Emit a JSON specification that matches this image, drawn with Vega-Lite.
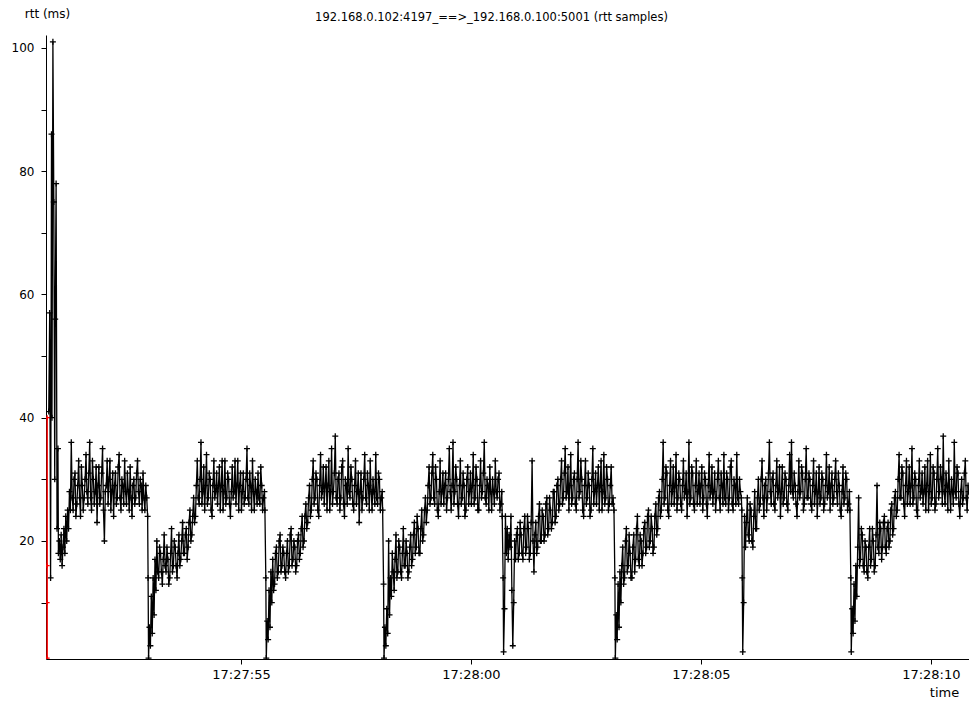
{
"$schema": "https://vega.github.io/schema/vega-lite/v6.json",
"width": 923, "height": 624,
"autosize": {"type": "none"},
"padding": {"left": 46, "top": 35, "right": 0, "bottom": 45},
"background": "white",
"config": {"view": {"stroke": null}, "font": "DejaVu Sans"},
"title": {"text": "192.168.0.102:4197_==>_192.168.0.100:5001 (rtt samples)", "fontSize": 11.5, "fontWeight": "normal", "font": "DejaVu Sans", "color": "black", "anchor": "middle", "frame": "group", "dx": -16, "offset": -16},
"datasets": {
"rtt": [
{"t":50.82,"r":41},{"t":50.84,"r":57},{"t":50.86,"r":14},{"t":50.88,"r":86},{"t":50.89,"r":40},{"t":50.91,"r":101},{"t":50.93,"r":75},{"t":50.95,"r":30},{"t":50.96,"r":56},{"t":50.98,"r":78},{"t":51.00,"r":22},{"t":51.02,"r":35},{"t":51.03,"r":18},
{"t":51.05,"r":20},{"t":51.07,"r":17},{"t":51.09,"r":21},{"t":51.11,"r":16},{"t":51.13,"r":19},{"t":51.15,"r":22},{"t":51.17,"r":18},{"t":51.19,"r":24},{"t":51.21,"r":20},{"t":51.23,"r":25},{"t":51.25,"r":22},
{"t":51.27,"r":28},{"t":51.29,"r":25},{"t":51.31,"r":36},{"t":51.33,"r":27},{"t":51.35,"r":25},{"t":51.37,"r":30},{"t":51.39,"r":31},{"t":51.41,"r":24},{"t":51.43,"r":26},{"t":51.45,"r":29},{"t":51.47,"r":33},{"t":51.49,"r":27},{"t":51.51,"r":24},{"t":51.53,"r":32},{"t":51.55,"r":29},{"t":51.57,"r":25},{"t":51.59,"r":27},{"t":51.61,"r":30},{"t":51.63,"r":34},{"t":51.65,"r":28},{"t":51.67,"r":26},{"t":51.69,"r":31},{"t":51.71,"r":36},{"t":51.73,"r":27},{"t":51.75,"r":25},{"t":51.77,"r":33},{"t":51.79,"r":30},{"t":51.81,"r":26},{"t":51.83,"r":28},{"t":51.85,"r":32},{"t":51.87,"r":23},{"t":51.89,"r":29},{"t":51.91,"r":32},{"t":51.93,"r":26},{"t":51.95,"r":27},{"t":51.97,"r":31},{"t":51.99,"r":35},{"t":52.01,"r":25},{"t":52.03,"r":20},{"t":52.05,"r":28},{"t":52.07,"r":29},{"t":52.09,"r":33},{"t":52.11,"r":26},{"t":52.13,"r":30},{"t":52.15,"r":33},{"t":52.17,"r":25},{"t":52.19,"r":28},{"t":52.21,"r":31},{"t":52.23,"r":24},{"t":52.25,"r":29},{"t":52.27,"r":31},{"t":52.29,"r":26},{"t":52.31,"r":27},{"t":52.33,"r":32},{"t":52.35,"r":34},{"t":52.37,"r":27},{"t":52.39,"r":25},{"t":52.41,"r":30},{"t":52.43,"r":29},{"t":52.45,"r":26},{"t":52.47,"r":33},{"t":52.49,"r":28},{"t":52.51,"r":26},{"t":52.53,"r":31},{"t":52.55,"r":28},{"t":52.57,"r":25},{"t":52.59,"r":32},{"t":52.61,"r":27},{"t":52.63,"r":24},{"t":52.65,"r":29},{"t":52.67,"r":30},{"t":52.69,"r":26},{"t":52.71,"r":27},{"t":52.73,"r":31},{"t":52.75,"r":33},{"t":52.77,"r":28},{"t":52.79,"r":26},{"t":52.81,"r":30},{"t":52.83,"r":29},{"t":52.85,"r":25},{"t":52.87,"r":31},{"t":52.89,"r":27},{"t":52.91,"r":25},{"t":52.93,"r":29},{"t":52.95,"r":27},
{"t":52.97,"r":24},{"t":52.98,"r":14},{"t":52.99,"r":1},{"t":53.01,"r":6},{"t":53.03,"r":3},{"t":53.05,"r":11},{"t":53.07,"r":5},{"t":53.09,"r":14},{"t":53.11,"r":8},{"t":53.13,"r":17},{"t":53.15,"r":12},{"t":53.17,"r":20},{"t":53.19,"r":15},{"t":53.21,"r":14},{"t":53.23,"r":19},{"t":53.25,"r":18},{"t":53.27,"r":15},{"t":53.29,"r":13},{"t":53.31,"r":17},{"t":53.33,"r":21},{"t":53.35,"r":16},{"t":53.37,"r":15},{"t":53.39,"r":19},{"t":53.41,"r":17},{"t":53.43,"r":13},{"t":53.45,"r":14},{"t":53.47,"r":18},{"t":53.49,"r":22},{"t":53.51,"r":15},{"t":53.53,"r":16},{"t":53.55,"r":20},{"t":53.57,"r":19},{"t":53.59,"r":16},{"t":53.61,"r":14},{"t":53.63,"r":18},{"t":53.65,"r":21},{"t":53.67,"r":16},{"t":53.69,"r":17},{"t":53.71,"r":20},{"t":53.73,"r":23},{"t":53.75,"r":18},{"t":53.77,"r":18},{"t":53.79,"r":21},{"t":53.81,"r":22},{"t":53.83,"r":17},{"t":53.85,"r":19},{"t":53.87,"r":23},{"t":53.89,"r":25},{"t":53.91,"r":20},{"t":53.93,"r":21},{"t":53.95,"r":24},{"t":53.97,"r":27},{"t":53.99,"r":23},{"t":54.01,"r":24},{"t":54.03,"r":29},
{"t":54.05,"r":33},{"t":54.07,"r":27},{"t":54.09,"r":26},{"t":54.11,"r":30},{"t":54.13,"r":36},{"t":54.15,"r":26},{"t":54.17,"r":28},{"t":54.19,"r":32},{"t":54.21,"r":25},{"t":54.23,"r":29},{"t":54.25,"r":34},{"t":54.27,"r":26},{"t":54.29,"r":27},{"t":54.31,"r":31},{"t":54.33,"r":30},{"t":54.35,"r":25},{"t":54.37,"r":24},{"t":54.39,"r":29},{"t":54.41,"r":33},{"t":54.43,"r":27},{"t":54.45,"r":28},{"t":54.47,"r":31},{"t":54.49,"r":26},{"t":54.51,"r":29},{"t":54.53,"r":32},{"t":54.55,"r":25},{"t":54.57,"r":29},{"t":54.59,"r":33},{"t":54.61,"r":25},{"t":54.63,"r":28},{"t":54.65,"r":33},{"t":54.67,"r":26},{"t":54.69,"r":27},{"t":54.71,"r":31},{"t":54.73,"r":30},{"t":54.75,"r":26},{"t":54.77,"r":24},{"t":54.79,"r":28},{"t":54.81,"r":32},{"t":54.83,"r":27},{"t":54.85,"r":28},{"t":54.87,"r":33},{"t":54.89,"r":26},{"t":54.91,"r":29},{"t":54.93,"r":33},{"t":54.95,"r":25},{"t":54.97,"r":29},{"t":54.99,"r":31},{"t":55.01,"r":25},{"t":55.03,"r":28},{"t":55.05,"r":31},{"t":55.07,"r":26},{"t":55.09,"r":27},{"t":55.11,"r":30},{"t":55.13,"r":35},{"t":55.15,"r":27},{"t":55.17,"r":26},{"t":55.19,"r":31},{"t":55.21,"r":29},{"t":55.23,"r":25},{"t":55.25,"r":33},{"t":55.27,"r":28},{"t":55.29,"r":25},{"t":55.31,"r":30},{"t":55.33,"r":28},{"t":55.35,"r":26},{"t":55.37,"r":31},{"t":55.39,"r":27},{"t":55.41,"r":26},{"t":55.43,"r":32},{"t":55.45,"r":29},{"t":55.47,"r":25},{"t":55.49,"r":27},{"t":55.51,"r":28},{"t":55.52,"r":25},
{"t":55.54,"r":14},{"t":55.55,"r":1},{"t":55.57,"r":7},{"t":55.59,"r":4},{"t":55.61,"r":12},{"t":55.63,"r":6},{"t":55.65,"r":15},{"t":55.67,"r":10},{"t":55.69,"r":17},{"t":55.71,"r":12},{"t":55.73,"r":13},{"t":55.75,"r":18},{"t":55.77,"r":19},{"t":55.79,"r":14},{"t":55.81,"r":15},{"t":55.83,"r":20},{"t":55.85,"r":21},{"t":55.87,"r":15},{"t":55.89,"r":16},{"t":55.91,"r":19},{"t":55.93,"r":18},{"t":55.95,"r":15},{"t":55.97,"r":14},{"t":55.99,"r":18},{"t":56.01,"r":20},{"t":56.03,"r":15},{"t":56.05,"r":16},{"t":56.07,"r":21},{"t":56.09,"r":22},{"t":56.11,"r":16},{"t":56.13,"r":17},{"t":56.15,"r":20},{"t":56.17,"r":19},{"t":56.19,"r":15},{"t":56.21,"r":16},{"t":56.23,"r":20},{"t":56.25,"r":21},{"t":56.27,"r":17},{"t":56.29,"r":18},{"t":56.31,"r":22},{"t":56.33,"r":24},{"t":56.35,"r":19},{"t":56.37,"r":20},{"t":56.39,"r":24},{"t":56.41,"r":26},{"t":56.43,"r":22},{"t":56.45,"r":23},{"t":56.47,"r":27},{"t":56.49,"r":29},{"t":56.51,"r":24},
{"t":56.53,"r":25},{"t":56.55,"r":30},{"t":56.57,"r":33},{"t":56.59,"r":26},{"t":56.61,"r":27},{"t":56.63,"r":31},{"t":56.65,"r":30},{"t":56.67,"r":25},{"t":56.69,"r":24},{"t":56.71,"r":29},{"t":56.73,"r":34},{"t":56.75,"r":27},{"t":56.77,"r":28},{"t":56.79,"r":32},{"t":56.81,"r":26},{"t":56.83,"r":29},{"t":56.85,"r":32},{"t":56.87,"r":25},{"t":56.89,"r":29},{"t":56.91,"r":33},{"t":56.93,"r":25},{"t":56.95,"r":28},{"t":56.97,"r":35},{"t":56.99,"r":26},{"t":57.01,"r":28},{"t":57.03,"r":31},{"t":57.05,"r":37},{"t":57.07,"r":27},{"t":57.09,"r":26},{"t":57.11,"r":30},{"t":57.13,"r":31},{"t":57.15,"r":25},{"t":57.17,"r":27},{"t":57.19,"r":32},{"t":57.21,"r":33},{"t":57.23,"r":26},{"t":57.25,"r":24},{"t":57.27,"r":30},{"t":57.29,"r":29},{"t":57.31,"r":26},{"t":57.33,"r":35},{"t":57.35,"r":28},{"t":57.37,"r":27},{"t":57.39,"r":32},{"t":57.41,"r":30},{"t":57.43,"r":26},{"t":57.45,"r":25},{"t":57.47,"r":29},{"t":57.49,"r":33},{"t":57.51,"r":26},{"t":57.53,"r":28},{"t":57.55,"r":31},{"t":57.57,"r":23},{"t":57.59,"r":28},{"t":57.61,"r":31},{"t":57.63,"r":25},{"t":57.65,"r":27},{"t":57.67,"r":30},{"t":57.69,"r":34},{"t":57.71,"r":27},{"t":57.73,"r":26},{"t":57.75,"r":31},{"t":57.77,"r":29},{"t":57.79,"r":25},{"t":57.81,"r":33},{"t":57.83,"r":28},{"t":57.85,"r":25},{"t":57.87,"r":30},{"t":57.89,"r":28},{"t":57.91,"r":26},{"t":57.93,"r":34},{"t":57.95,"r":27},{"t":57.97,"r":26},{"t":57.99,"r":31},{"t":58.01,"r":30},{"t":58.03,"r":25},{"t":58.05,"r":27},{"t":58.07,"r":28},{"t":58.08,"r":25},
{"t":58.10,"r":13},{"t":58.11,"r":1},{"t":58.13,"r":6},{"t":58.15,"r":3},{"t":58.17,"r":9},{"t":58.19,"r":5},{"t":58.21,"r":20},{"t":58.23,"r":8},{"t":58.25,"r":14},{"t":58.27,"r":11},{"t":58.29,"r":18},{"t":58.31,"r":15},{"t":58.33,"r":12},{"t":58.35,"r":17},{"t":58.37,"r":21},{"t":58.39,"r":14},{"t":58.41,"r":15},{"t":58.43,"r":20},{"t":58.45,"r":19},{"t":58.47,"r":15},{"t":58.49,"r":14},{"t":58.51,"r":18},{"t":58.53,"r":22},{"t":58.55,"r":16},{"t":58.57,"r":16},{"t":58.59,"r":20},{"t":58.61,"r":18},{"t":58.63,"r":14},{"t":58.65,"r":15},{"t":58.67,"r":19},{"t":58.69,"r":21},{"t":58.71,"r":16},{"t":58.73,"r":17},{"t":58.75,"r":21},{"t":58.77,"r":23},{"t":58.79,"r":18},{"t":58.81,"r":19},{"t":58.83,"r":24},{"t":58.85,"r":22},{"t":58.87,"r":18},{"t":58.89,"r":18},{"t":58.91,"r":22},{"t":58.93,"r":25},{"t":58.95,"r":20},{"t":58.97,"r":21},{"t":58.99,"r":25},{"t":59.01,"r":27},{"t":59.03,"r":23},
{"t":59.05,"r":25},{"t":59.07,"r":29},{"t":59.09,"r":32},{"t":59.11,"r":26},{"t":59.13,"r":27},{"t":59.15,"r":31},{"t":59.17,"r":34},{"t":59.19,"r":27},{"t":59.21,"r":26},{"t":59.23,"r":32},{"t":59.25,"r":30},{"t":59.27,"r":25},{"t":59.29,"r":24},{"t":59.31,"r":28},{"t":59.33,"r":33},{"t":59.35,"r":26},{"t":59.37,"r":28},{"t":59.39,"r":31},{"t":59.41,"r":26},{"t":59.43,"r":29},{"t":59.45,"r":31},{"t":59.47,"r":25},{"t":59.49,"r":27},{"t":59.51,"r":30},{"t":59.53,"r":35},{"t":59.55,"r":28},{"t":59.57,"r":25},{"t":59.59,"r":29},{"t":59.61,"r":36},{"t":59.63,"r":26},{"t":59.65,"r":28},{"t":59.67,"r":32},{"t":59.69,"r":30},{"t":59.71,"r":26},{"t":59.73,"r":24},{"t":59.75,"r":29},{"t":59.77,"r":33},{"t":59.79,"r":26},{"t":59.81,"r":27},{"t":59.83,"r":31},{"t":59.85,"r":29},{"t":59.87,"r":24},{"t":59.89,"r":25},{"t":59.91,"r":30},{"t":59.93,"r":32},{"t":59.95,"r":26},{"t":59.97,"r":28},{"t":59.99,"r":31},{"t":60.01,"r":26},{"t":60.03,"r":29},{"t":60.05,"r":34},{"t":60.07,"r":26},{"t":60.09,"r":27},{"t":60.11,"r":32},{"t":60.13,"r":30},{"t":60.15,"r":25},{"t":60.17,"r":25},{"t":60.19,"r":29},{"t":60.21,"r":33},{"t":60.23,"r":27},{"t":60.25,"r":28},{"t":60.27,"r":31},{"t":60.29,"r":36},{"t":60.31,"r":27},{"t":60.33,"r":26},{"t":60.35,"r":30},{"t":60.37,"r":29},{"t":60.39,"r":25},{"t":60.41,"r":32},{"t":60.43,"r":28},{"t":60.45,"r":25},{"t":60.47,"r":30},{"t":60.49,"r":28},{"t":60.51,"r":26},{"t":60.53,"r":33},{"t":60.55,"r":28},{"t":60.57,"r":27},{"t":60.59,"r":30},{"t":60.61,"r":31},{"t":60.63,"r":25},{"t":60.65,"r":26},{"t":60.67,"r":28},{"t":60.68,"r":24},
{"t":60.70,"r":14},{"t":60.71,"r":2},{"t":60.73,"r":9},{"t":60.75,"r":24},{"t":60.77,"r":18},{"t":60.79,"r":22},{"t":60.81,"r":17},{"t":60.83,"r":21},{"t":60.85,"r":19},{"t":60.87,"r":24},{"t":60.89,"r":12},{"t":60.91,"r":3},{"t":60.93,"r":10},{"t":60.95,"r":20},{"t":60.97,"r":17},{"t":60.99,"r":21},{"t":61.01,"r":22},{"t":61.03,"r":17},{"t":61.05,"r":18},{"t":61.07,"r":23},{"t":61.09,"r":21},{"t":61.11,"r":18},{"t":61.13,"r":17},{"t":61.15,"r":22},{"t":61.17,"r":24},{"t":61.19,"r":18},{"t":61.21,"r":19},{"t":61.23,"r":24},{"t":61.25,"r":22},{"t":61.27,"r":17},{"t":61.29,"r":18},{"t":61.31,"r":23},{"t":61.33,"r":33},{"t":61.35,"r":20},{"t":61.37,"r":15},{"t":61.39,"r":21},{"t":61.41,"r":23},{"t":61.43,"r":18},{"t":61.45,"r":19},{"t":61.47,"r":24},{"t":61.49,"r":26},{"t":61.51,"r":20},{"t":61.53,"r":20},{"t":61.55,"r":25},{"t":61.57,"r":24},{"t":61.59,"r":20},{"t":61.61,"r":21},{"t":61.63,"r":26},{"t":61.65,"r":27},{"t":61.67,"r":21},{"t":61.69,"r":22},{"t":61.71,"r":27},{"t":61.73,"r":25},{"t":61.75,"r":22},{"t":61.77,"r":23},{"t":61.79,"r":28},{"t":61.81,"r":28},{"t":61.83,"r":23},{"t":61.85,"r":24},{"t":61.87,"r":29},{"t":61.89,"r":30},{"t":61.91,"r":25},{"t":61.93,"r":26},{"t":61.95,"r":30},
{"t":61.97,"r":33},{"t":61.99,"r":26},{"t":62.01,"r":27},{"t":62.03,"r":31},{"t":62.05,"r":35},{"t":62.07,"r":27},{"t":62.09,"r":28},{"t":62.11,"r":32},{"t":62.13,"r":25},{"t":62.15,"r":29},{"t":62.17,"r":34},{"t":62.19,"r":26},{"t":62.21,"r":27},{"t":62.23,"r":30},{"t":62.25,"r":31},{"t":62.27,"r":26},{"t":62.29,"r":25},{"t":62.31,"r":30},{"t":62.33,"r":36},{"t":62.35,"r":27},{"t":62.37,"r":28},{"t":62.39,"r":33},{"t":62.41,"r":30},{"t":62.43,"r":25},{"t":62.45,"r":24},{"t":62.47,"r":29},{"t":62.49,"r":33},{"t":62.51,"r":26},{"t":62.53,"r":27},{"t":62.55,"r":31},{"t":62.57,"r":29},{"t":62.59,"r":24},{"t":62.61,"r":25},{"t":62.63,"r":30},{"t":62.65,"r":35},{"t":62.67,"r":26},{"t":62.69,"r":28},{"t":62.71,"r":31},{"t":62.73,"r":26},{"t":62.75,"r":29},{"t":62.77,"r":32},{"t":62.79,"r":25},{"t":62.81,"r":29},{"t":62.83,"r":33},{"t":62.85,"r":25},{"t":62.87,"r":28},{"t":62.89,"r":34},{"t":62.91,"r":26},{"t":62.93,"r":27},{"t":62.95,"r":32},{"t":62.97,"r":30},{"t":62.99,"r":25},{"t":63.01,"r":26},{"t":63.03,"r":29},{"t":63.05,"r":32},{"t":63.07,"r":26},{"t":63.09,"r":27},{"t":63.11,"r":25},
{"t":63.13,"r":14},{"t":63.14,"r":1},{"t":63.16,"r":8},{"t":63.18,"r":4},{"t":63.20,"r":13},{"t":63.22,"r":6},{"t":63.24,"r":15},{"t":63.26,"r":10},{"t":63.28,"r":16},{"t":63.30,"r":19},{"t":63.32,"r":13},{"t":63.34,"r":14},{"t":63.36,"r":20},{"t":63.38,"r":22},{"t":63.40,"r":15},{"t":63.42,"r":16},{"t":63.44,"r":21},{"t":63.46,"r":18},{"t":63.48,"r":14},{"t":63.50,"r":14},{"t":63.52,"r":19},{"t":63.54,"r":21},{"t":63.56,"r":15},{"t":63.58,"r":17},{"t":63.60,"r":22},{"t":63.62,"r":24},{"t":63.64,"r":17},{"t":63.66,"r":16},{"t":63.68,"r":21},{"t":63.70,"r":20},{"t":63.72,"r":16},{"t":63.74,"r":18},{"t":63.76,"r":22},{"t":63.78,"r":23},{"t":63.80,"r":18},{"t":63.82,"r":19},{"t":63.84,"r":24},{"t":63.86,"r":25},{"t":63.88,"r":19},{"t":63.90,"r":20},{"t":63.92,"r":24},{"t":63.94,"r":22},{"t":63.96,"r":18},{"t":63.98,"r":19},{"t":64.00,"r":24},{"t":64.02,"r":26},{"t":64.04,"r":21},{"t":64.06,"r":22},{"t":64.08,"r":27},{"t":64.10,"r":28},{"t":64.12,"r":24},
{"t":64.14,"r":25},{"t":64.16,"r":30},{"t":64.18,"r":36},{"t":64.20,"r":26},{"t":64.22,"r":27},{"t":64.24,"r":32},{"t":64.26,"r":31},{"t":64.28,"r":25},{"t":64.30,"r":24},{"t":64.32,"r":29},{"t":64.34,"r":33},{"t":64.36,"r":26},{"t":64.38,"r":28},{"t":64.40,"r":32},{"t":64.42,"r":26},{"t":64.44,"r":29},{"t":64.46,"r":34},{"t":64.48,"r":25},{"t":64.50,"r":27},{"t":64.52,"r":31},{"t":64.54,"r":30},{"t":64.56,"r":26},{"t":64.58,"r":25},{"t":64.60,"r":29},{"t":64.62,"r":33},{"t":64.64,"r":27},{"t":64.66,"r":28},{"t":64.68,"r":31},{"t":64.70,"r":24},{"t":64.72,"r":28},{"t":64.74,"r":36},{"t":64.76,"r":26},{"t":64.78,"r":27},{"t":64.80,"r":32},{"t":64.82,"r":31},{"t":64.84,"r":26},{"t":64.86,"r":25},{"t":64.88,"r":29},{"t":64.90,"r":33},{"t":64.92,"r":26},{"t":64.94,"r":28},{"t":64.96,"r":31},{"t":64.98,"r":26},{"t":65.00,"r":29},{"t":65.02,"r":32},{"t":65.04,"r":25},{"t":65.06,"r":27},{"t":65.08,"r":31},{"t":65.10,"r":30},{"t":65.12,"r":26},{"t":65.14,"r":24},{"t":65.16,"r":29},{"t":65.18,"r":34},{"t":65.20,"r":27},{"t":65.22,"r":28},{"t":65.24,"r":32},{"t":65.26,"r":26},{"t":65.28,"r":28},{"t":65.30,"r":31},{"t":65.32,"r":25},{"t":65.34,"r":27},{"t":65.36,"r":30},{"t":65.38,"r":33},{"t":65.40,"r":27},{"t":65.42,"r":25},{"t":65.44,"r":31},{"t":65.46,"r":29},{"t":65.48,"r":26},{"t":65.50,"r":34},{"t":65.52,"r":27},{"t":65.54,"r":26},{"t":65.56,"r":31},{"t":65.58,"r":30},{"t":65.60,"r":25},{"t":65.62,"r":27},{"t":65.64,"r":32},{"t":65.66,"r":33},{"t":65.68,"r":26},{"t":65.70,"r":25},{"t":65.72,"r":30},{"t":65.74,"r":29},{"t":65.76,"r":26},{"t":65.78,"r":34},{"t":65.80,"r":27},{"t":65.82,"r":26},{"t":65.84,"r":30},{"t":65.86,"r":28},{"t":65.88,"r":27},{"t":65.89,"r":25},
{"t":65.90,"r":14},{"t":65.91,"r":2},{"t":65.93,"r":10},{"t":65.95,"r":24},{"t":65.97,"r":19},{"t":65.99,"r":23},{"t":66.01,"r":27},{"t":66.03,"r":21},{"t":66.05,"r":20},{"t":66.07,"r":26},{"t":66.09,"r":25},{"t":66.11,"r":20},{"t":66.13,"r":19},{"t":66.15,"r":24},{"t":66.17,"r":28},{"t":66.19,"r":22},{"t":66.21,"r":22},{"t":66.23,"r":27},{"t":66.25,"r":30},{"t":66.27,"r":25},
{"t":66.29,"r":26},{"t":66.31,"r":30},{"t":66.33,"r":33},{"t":66.35,"r":27},{"t":66.37,"r":24},{"t":66.39,"r":29},{"t":66.41,"r":30},{"t":66.43,"r":25},{"t":66.45,"r":27},{"t":66.47,"r":31},{"t":66.49,"r":36},{"t":66.51,"r":28},{"t":66.53,"r":26},{"t":66.55,"r":30},{"t":66.57,"r":31},{"t":66.59,"r":26},{"t":66.61,"r":25},{"t":66.63,"r":29},{"t":66.65,"r":33},{"t":66.67,"r":27},{"t":66.69,"r":28},{"t":66.71,"r":32},{"t":66.73,"r":24},{"t":66.75,"r":28},{"t":66.77,"r":32},{"t":66.79,"r":26},{"t":66.81,"r":27},{"t":66.83,"r":31},{"t":66.85,"r":30},{"t":66.87,"r":26},{"t":66.89,"r":25},{"t":66.91,"r":29},{"t":66.93,"r":34},{"t":66.95,"r":28},{"t":66.97,"r":36},{"t":66.99,"r":28},{"t":67.01,"r":27},{"t":67.03,"r":31},{"t":67.05,"r":29},{"t":67.07,"r":26},{"t":67.09,"r":24},{"t":67.11,"r":28},{"t":67.13,"r":33},{"t":67.15,"r":27},{"t":67.17,"r":28},{"t":67.19,"r":32},{"t":67.21,"r":31},{"t":67.23,"r":25},{"t":67.25,"r":26},{"t":67.27,"r":30},{"t":67.29,"r":35},{"t":67.31,"r":27},{"t":67.33,"r":27},{"t":67.35,"r":31},{"t":67.37,"r":30},{"t":67.39,"r":26},{"t":67.41,"r":25},{"t":67.43,"r":29},{"t":67.45,"r":33},{"t":67.47,"r":26},{"t":67.49,"r":28},{"t":67.51,"r":31},{"t":67.53,"r":24},{"t":67.55,"r":28},{"t":67.57,"r":32},{"t":67.59,"r":26},{"t":67.61,"r":27},{"t":67.63,"r":31},{"t":67.65,"r":30},{"t":67.67,"r":25},{"t":67.69,"r":26},{"t":67.71,"r":29},{"t":67.73,"r":34},{"t":67.75,"r":27},{"t":67.77,"r":28},{"t":67.79,"r":32},{"t":67.81,"r":25},{"t":67.83,"r":29},{"t":67.85,"r":31},{"t":67.87,"r":26},{"t":67.89,"r":27},{"t":67.91,"r":30},{"t":67.93,"r":33},{"t":67.95,"r":28},{"t":67.97,"r":26},{"t":67.99,"r":31},{"t":68.01,"r":29},{"t":68.03,"r":25},{"t":68.05,"r":24},{"t":68.07,"r":28},{"t":68.09,"r":32},{"t":68.11,"r":26},{"t":68.13,"r":27},{"t":68.15,"r":31},{"t":68.17,"r":30},{"t":68.19,"r":25},{"t":68.21,"r":26},{"t":68.23,"r":28},{"t":68.24,"r":25},
{"t":68.26,"r":14},{"t":68.27,"r":2},{"t":68.29,"r":9},{"t":68.31,"r":5},{"t":68.33,"r":13},{"t":68.35,"r":7},{"t":68.37,"r":16},{"t":68.39,"r":11},{"t":68.41,"r":19},{"t":68.43,"r":27},{"t":68.45,"r":16},{"t":68.47,"r":17},{"t":68.49,"r":22},{"t":68.51,"r":21},{"t":68.53,"r":16},{"t":68.55,"r":15},{"t":68.57,"r":20},{"t":68.59,"r":19},{"t":68.61,"r":15},{"t":68.63,"r":14},{"t":68.65,"r":19},{"t":68.67,"r":22},{"t":68.69,"r":16},{"t":68.71,"r":17},{"t":68.73,"r":22},{"t":68.75,"r":20},{"t":68.77,"r":15},{"t":68.79,"r":16},{"t":68.81,"r":21},{"t":68.83,"r":29},{"t":68.85,"r":19},{"t":68.87,"r":18},{"t":68.89,"r":23},{"t":68.91,"r":22},{"t":68.93,"r":17},{"t":68.95,"r":19},{"t":68.97,"r":23},{"t":68.99,"r":24},{"t":69.01,"r":19},{"t":69.03,"r":18},{"t":69.05,"r":22},{"t":69.07,"r":23},{"t":69.09,"r":19},{"t":69.11,"r":20},{"t":69.13,"r":25},{"t":69.15,"r":26},{"t":69.17,"r":21},{"t":69.19,"r":22},{"t":69.21,"r":27},{"t":69.23,"r":28},{"t":69.25,"r":24},
{"t":69.27,"r":25},{"t":69.29,"r":30},{"t":69.31,"r":34},{"t":69.33,"r":27},{"t":69.35,"r":27},{"t":69.37,"r":32},{"t":69.39,"r":31},{"t":69.41,"r":26},{"t":69.43,"r":24},{"t":69.45,"r":29},{"t":69.47,"r":33},{"t":69.49,"r":26},{"t":69.51,"r":28},{"t":69.53,"r":32},{"t":69.55,"r":26},{"t":69.57,"r":29},{"t":69.59,"r":35},{"t":69.61,"r":26},{"t":69.63,"r":27},{"t":69.65,"r":31},{"t":69.67,"r":30},{"t":69.69,"r":25},{"t":69.71,"r":24},{"t":69.73,"r":29},{"t":69.75,"r":33},{"t":69.77,"r":27},{"t":69.79,"r":28},{"t":69.81,"r":31},{"t":69.83,"r":26},{"t":69.85,"r":28},{"t":69.87,"r":32},{"t":69.89,"r":25},{"t":69.91,"r":29},{"t":69.93,"r":33},{"t":69.95,"r":25},{"t":69.97,"r":28},{"t":69.99,"r":34},{"t":70.01,"r":26},{"t":70.03,"r":27},{"t":70.05,"r":32},{"t":70.07,"r":31},{"t":70.09,"r":25},{"t":70.11,"r":26},{"t":70.13,"r":30},{"t":70.15,"r":35},{"t":70.17,"r":27},{"t":70.19,"r":28},{"t":70.21,"r":32},{"t":70.23,"r":30},{"t":70.25,"r":26},{"t":70.27,"r":37},{"t":70.29,"r":28},{"t":70.31,"r":26},{"t":70.33,"r":31},{"t":70.35,"r":29},{"t":70.37,"r":25},{"t":70.39,"r":33},{"t":70.41,"r":28},{"t":70.43,"r":25},{"t":70.45,"r":30},{"t":70.47,"r":28},{"t":70.49,"r":26},{"t":70.51,"r":36},{"t":70.53,"r":28},{"t":70.55,"r":27},{"t":70.57,"r":32},{"t":70.59,"r":31},{"t":70.61,"r":26},{"t":70.63,"r":24},{"t":70.65,"r":28},{"t":70.67,"r":30},{"t":70.69,"r":26},{"t":70.71,"r":27},{"t":70.73,"r":31},{"t":70.75,"r":33},{"t":70.77,"r":27},{"t":70.79,"r":25},{"t":70.81,"r":29},{"t":70.82,"r":28}
],
"red": [{"t":50.785,"r":1},{"t":50.785,"r":10},{"t":50.785,"r":16},{"t":50.785,"r":40}]
},
"layer": [
{"data": {"name": "rtt"}, "mark": {"type": "line", "color": "black", "strokeWidth": 1.3, "clip": true},
 "encoding": {
  "x": {"field": "t", "type": "quantitative", "scale": {"domain": [50.76, 70.83], "nice": false, "zero": false},
   "axis": {"values": [55, 60, 65, 70], "labelExpr": "datum.value < 60 ? '17:27:' + datum.value : '17:28:' + (datum.value - 60 < 10 ? '0' : '') + (datum.value - 60)", "grid": false, "tickSize": 5, "labelPadding": 4, "labelFontSize": 13, "labelFont": "DejaVu Sans", "labelColor": "black", "domainColor": "black", "tickColor": "black", "title": "time", "titleFont": "DejaVu Sans", "titleFontSize": 13, "titleFontWeight": "normal", "titleColor": "black", "titleX": 898, "titleY": 33, "titleAlign": "center", "titleBaseline": "middle", "labelFlush": false}},
  "y": {"field": "r", "type": "quantitative", "scale": {"domain": [0.85, 102.1], "nice": false, "zero": false},
   "axis": {"values": [10, 20, 30, 40, 50, 60, 70, 80, 90, 100], "labelExpr": "datum.value % 20 == 0 ? datum.label : ''", "grid": false, "tickSize": 5, "labelPadding": 7, "labelFontSize": 12, "labelFont": "DejaVu Sans", "labelColor": "black", "domainColor": "black", "tickColor": "black", "title": "rtt (ms)", "titleFont": "DejaVu Sans", "titleFontSize": 12, "titleFontWeight": "normal", "titleColor": "black", "titleAngle": 0, "titleX": 1, "titleY": -22, "titleAlign": "center", "titleBaseline": "middle", "labelFlush": false}}
 }},
{"data": {"name": "rtt"}, "mark": {"type": "point", "shape": "M-1,0H1M0,-1V1", "size": 36, "stroke": "black", "strokeWidth": 1.3, "filled": false, "opacity": 1, "clip": true},
 "encoding": {"x": {"field": "t", "type": "quantitative"}, "y": {"field": "r", "type": "quantitative"}}},
{"data": {"name": "red"}, "mark": {"type": "line", "color": "red", "strokeWidth": 1.5, "clip": true},
 "encoding": {"x": {"field": "t", "type": "quantitative"}, "y": {"field": "r", "type": "quantitative"}}},
{"data": {"name": "red"}, "mark": {"type": "point", "shape": "M-1,0H1M0,-1V1", "size": 25, "stroke": "red", "strokeWidth": 1.3, "filled": false, "opacity": 1, "clip": true},
 "encoding": {"x": {"field": "t", "type": "quantitative"}, "y": {"field": "r", "type": "quantitative"}}}
]
}
